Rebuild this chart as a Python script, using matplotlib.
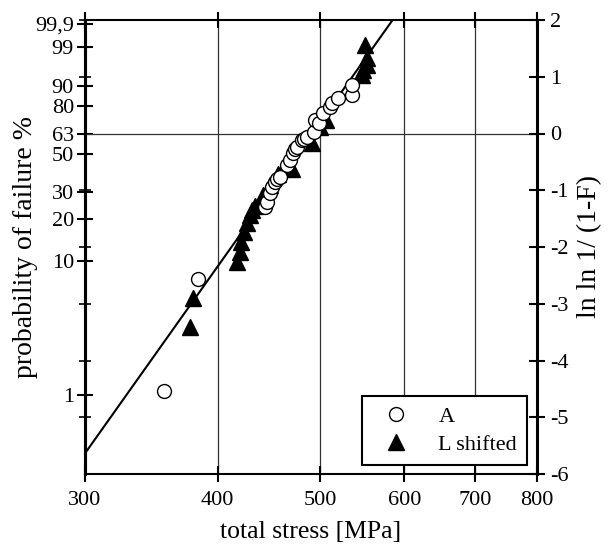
import numpy as np
import matplotlib
matplotlib.use("Agg")
from matplotlib import pyplot as plt
from matplotlib.ticker import FixedLocator, NullLocator, NullFormatter

plt.rcParams['font.family'] = ['Liberation Serif', 'DejaVu Serif']
plt.rcParams['axes.unicode_minus'] = False

# series A (open circles): stress [MPa], ln ln 1/(1-F)
a_stress = [356, 383, 443, 445, 448, 450, 453, 455, 458, 465, 468, 471, 473, 475,
            480, 483, 486, 493, 494, 498, 503, 511, 513, 520, 536, 536]
a_lnln = [-4.54, -2.57, -1.30, -1.20, -1.04, -0.95, -0.86, -0.81, -0.76, -0.55, -0.46,
          -0.34, -0.28, -0.23, -0.11, -0.09, -0.06, 0.03, 0.24, 0.19, 0.37, 0.47, 0.54,
          0.63, 0.68, 0.86]

# series L shifted (filled triangles)
l_stress = [377, 379, 417, 420, 421, 424, 426, 429, 431, 434, 441, 448, 456, 463, 466,
            470, 491, 500, 506, 547, 548, 553, 553, 551]
l_lnln = [-3.41, -2.89, -2.27, -2.09, -1.92, -1.74, -1.57, -1.43, -1.34, -1.27, -1.09,
          -0.90, -0.72, -0.58, -0.50, -0.62, -0.16, 0.12, 0.24, 1.03, 1.12, 1.21, 1.33,
          1.56]

# Weibull fit line: modulus and characteristic stress
weibull_m = 11.44
sigma_0 = 491.0

prob_ticks = [99.9, 99, 90, 80, 63, 50, 30, 20, 10, 1]
prob_labels = ["99,9", "99", "90", "80", "63", "50", "30", "20", "10", "1"]
x_ticks = [300, 400, 500, 600, 700, 800]

fig = plt.figure(figsize=(6.08, 5.52), dpi=100)
ax = fig.add_axes([85 / 608, 1 - 474 / 552, (537 - 85) / 608, (474 - 20) / 552])

ax.set_xscale('log')
ax.set_xlim(300, 800)
ax.set_ylim(-6, 2)

# grid lines
for xv in [400, 500, 600, 700]:
    ax.axvline(xv, color='#333333', lw=0.9, zorder=1)
ax.axhline(0, color='#333333', lw=0.9, zorder=1)

s = np.linspace(300, 800, 200)
ax.plot(s, weibull_m * (np.log(s) - np.log(sigma_0)), color='black', lw=1.5, zorder=2)

ax.plot(a_stress, a_lnln, 'o', ms=10, mfc='white', mec='black', mew=1.0,
        label='A', zorder=4)
ax.plot(l_stress, l_lnln, '^', ms=11, mfc='black', mec='black',
        label='L shifted', zorder=3)

ax.xaxis.set_major_locator(FixedLocator(x_ticks))
ax.xaxis.set_minor_locator(NullLocator())
ax.xaxis.set_minor_formatter(NullFormatter())
ax.set_xticklabels([str(v) for v in x_ticks])
ax.tick_params(axis='x', which='major', direction='inout', length=12, width=1.5,
               labelsize=16, top=True, pad=6)

ax.yaxis.tick_right()
ax.yaxis.set_label_position('right')
ax.set_yticks(range(-6, 3))
ax.tick_params(axis='y', which='major', direction='inout', length=12, width=1.5,
               labelsize=16, right=True, left=False)
ax.set_ylabel("ln ln 1/ (1-F)", fontsize=20, labelpad=6)
ax.set_xlabel("total stress [MPa]", fontsize=18.5, labelpad=8)

for sp in ax.spines.values():
    sp.set_linewidth(1.5)
ax.spines['left'].set_linewidth(2.2)
ax.spines['right'].set_linewidth(2.2)

# left probability axis
sec = ax.secondary_yaxis('left')
sec.set_yticks([np.log(-np.log(1 - p / 100)) for p in prob_ticks], labels=prob_labels)
sec.yaxis.set_minor_locator(FixedLocator(list(range(-5, 3))))
sec.tick_params(axis='y', which='major', direction='inout', length=12, width=1.5,
                labelsize=16, pad=2)
sec.tick_params(axis='y', which='minor', direction='inout', length=8, width=1.2)
sec.spines['left'].set_linewidth(2.2)
sec.set_ylabel("probability of failure %", fontsize=20, labelpad=-2)

leg = ax.legend(loc='lower right', fontsize=16, frameon=True, fancybox=False,
                edgecolor='black', framealpha=1, borderpad=0.45, handletextpad=0.8,
                handlelength=2.2, labelspacing=0.35, borderaxespad=0,
                bbox_to_anchor=(0.978, 0.02))
leg.get_frame().set_linewidth(1.5)

fig.savefig("out.png", dpi=100)
